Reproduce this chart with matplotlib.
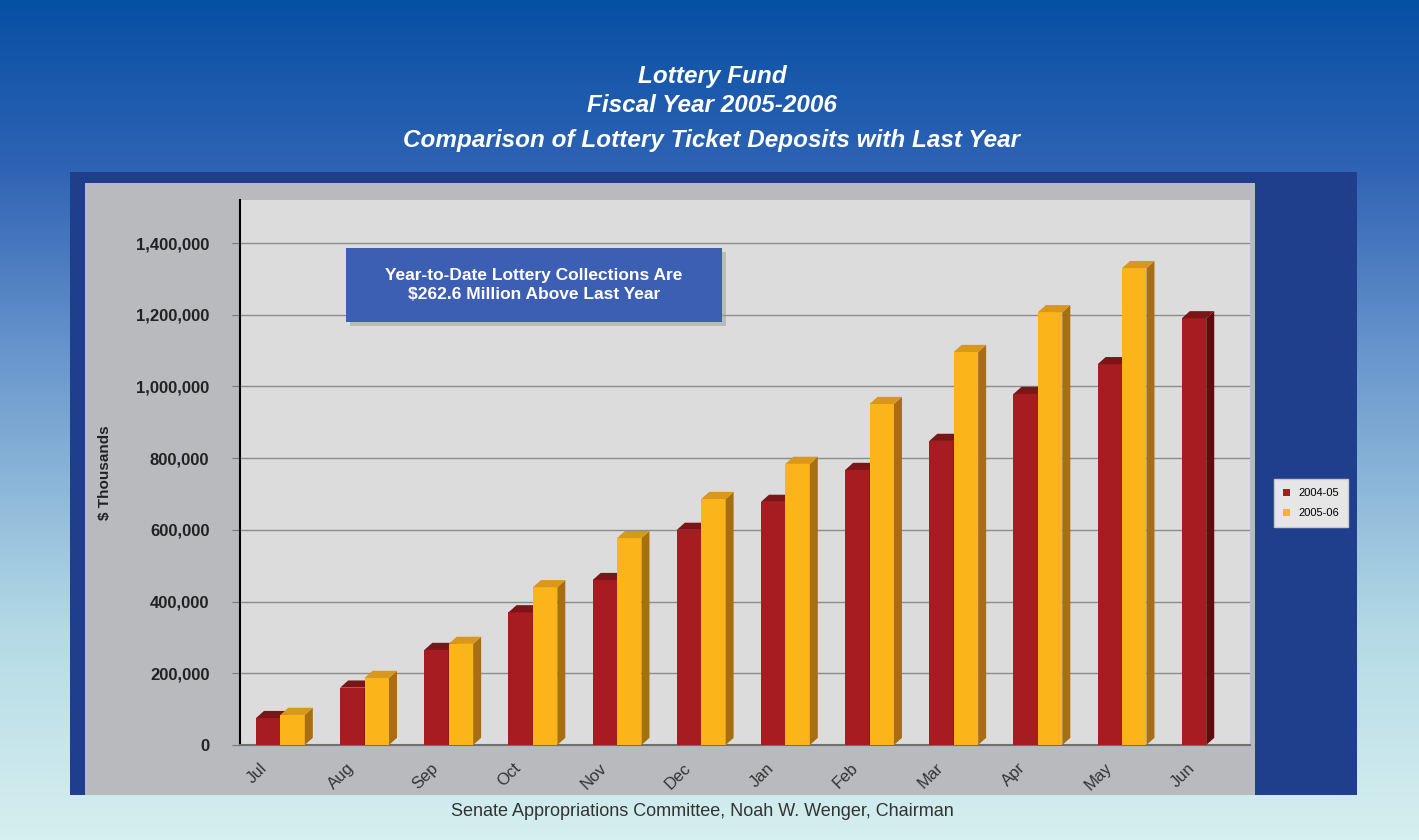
import numpy as np
import matplotlib.pyplot as plt
from matplotlib.patches import Rectangle, Polygon
from matplotlib.colors import LinearSegmentedColormap

plt.rcParams['font.family'] = ['Liberation Sans', 'DejaVu Sans']

months = ["Jul", "Aug", "Sep", "Oct", "Nov", "Dec", "Jan", "Feb", "Mar", "Apr", "May", "Jun"]
fy0405 = [75000, 160000, 265000, 370000, 460000, 600000, 678000, 767000, 848000, 979000, 1062000, 1190000]
fy0506 = [84000, 187000, 282000, 440000, 577000, 686000, 784000, 951000, 1096000, 1207000, 1330000]
series_names = ["2004-05", "2005-06"]

W, H = 1419, 840
fig = plt.figure(figsize=(W / 100, H / 100), dpi=100)

# background gradient
bg = fig.add_axes([0, 0, 1, 1])
bg_cmap = LinearSegmentedColormap.from_list(
    "bg", [(0.0, "#0650a4"), (0.2, "#2f63b4"), (0.45, "#6f9ccf"), (0.75, "#b4dae6"), (1.0, "#d6efef")])
grad = np.linspace(0, 1, 256).reshape(-1, 1)
bg.imshow(grad, aspect="auto", cmap=bg_cmap, extent=[0, 1, 0, 1], origin="upper")
bg.set_xlim(0, 1)
bg.set_ylim(0, 1)
bg.axis("off")


def fx(px):
    return px / W


def fy(py):
    return 1 - py / H


# dark blue panel and grey chart area
fig.patches.append(Rectangle((fx(70), fy(795)), fx(1357 - 70), (795 - 172) / H,
                             transform=fig.transFigure, facecolor="#1f3f8c", edgecolor="none", zorder=1))
fig.patches.append(Rectangle((fx(85), fy(795)), fx(1255 - 85), (795 - 183) / H,
                             transform=fig.transFigure, facecolor="#b9babe", edgecolor="none", zorder=1))

# title
title_lines = ["Lottery Fund", "Fiscal Year 2005-2006", "Comparison of Lottery Ticket Deposits with Last Year"]
for line, ypx in zip(title_lines, [77, 105, 140]):
    fig.text(fx(712), fy(ypx), line, color="white", fontsize=17.5, fontweight="bold",
             fontstyle="italic", ha="center", va="center")

# main plot
ax = fig.add_axes([fx(240), fy(745), fx(1010), (745 - 200) / H])
ax.set_facecolor("#dcdcdc")
ax.set_zorder(2)

x = np.arange(len(months))
bw = 0.29
dx = 0.095
dy = 20000

red_front, red_side, red_top = "#a71c20", "#600c0f", "#7c1517"
yel_front, yel_side, yel_top = "#fbb51b", "#a86f12", "#d9981c"


def draw_bars(xs, vals, front, side, top, label):
    ax.bar(xs, vals, width=bw, align="edge", color=front, zorder=4, label=label)
    for xi, v in zip(xs, vals):
        ax.add_patch(Polygon([(xi + bw, 0), (xi + bw, v), (xi + bw + dx, v + dy), (xi + bw + dx, dy)],
                             closed=True, facecolor=side, edgecolor="none", zorder=4))
        ax.add_patch(Polygon([(xi, v), (xi + dx, v + dy), (xi + bw + dx, v + dy), (xi + bw, v)],
                             closed=True, facecolor=top, edgecolor="none", zorder=4))


draw_bars(x - 0.31, fy0405, red_front, red_side, red_top, series_names[0])
draw_bars(x[:len(fy0506)] - 0.02, fy0506, yel_front, yel_side, yel_top, series_names[1])

ax.set_xlim(-0.5, 11.5)
ax.set_ylim(0, 1520000)
ax.set_yticks(np.arange(0, 1400001, 200000))
ax.set_yticklabels([f"{v:,}" for v in range(0, 1400001, 200000)], fontsize=12,
                   fontweight="bold", color="#222222")
ax.yaxis.grid(True, color="#8c8c8c", linewidth=1)
ax.set_axisbelow(True)
ax.tick_params(axis="y", length=6, color="#777777", pad=16)

ax.set_xticks(x - 0.3)
ax.set_xticklabels(months, rotation=45, ha="center", fontsize=12, color="#333333")
ax.tick_params(axis="x", length=0, pad=11)

for s in ["top", "right"]:
    ax.spines[s].set_visible(False)
ax.spines["left"].set_color("black")
ax.spines["left"].set_linewidth(1.5)
ax.spines["bottom"].set_color("#707070")
ax.spines["bottom"].set_linewidth(1.5)

ax.set_ylabel("$ Thousands", fontsize=11, fontweight="bold", color="#222222", labelpad=0)
ax.yaxis.set_label_coords(fx(112 - 240) / fx(1010), 0.5)

# callout box
fig.patches.append(Rectangle((fx(350), fy(326)), fx(376), 74 / H, transform=fig.transFigure,
                             facecolor="#9a9a9a", alpha=0.5, edgecolor="none", zorder=5))
fig.patches.append(Rectangle((fx(346), fy(322)), fx(376), 74 / H, transform=fig.transFigure,
                             facecolor="#3d5fb3", edgecolor="none", zorder=5))
fig.text(fx(534), fy(285), "Year-to-Date Lottery Collections Are\n$262.6 Million Above Last Year",
         color="white", fontsize=12.5, fontweight="bold", ha="center", va="center",
         linespacing=1.3, zorder=6)

# legend
leg = fig.legend(loc="center", bbox_to_anchor=(fx(1311), fy(503)), fontsize=8,
                 frameon=True, fancybox=False, facecolor="#e6e6e6", edgecolor="#c8c8c8",
                 framealpha=1, handlelength=0.6, handleheight=0.6, handletextpad=0.8,
                 borderpad=0.8, labelspacing=0.9)

fig.text(fx(702), fy(811), "Senate Appropriations Committee, Noah W. Wenger, Chairman",
         fontsize=13, color="#333333", ha="center", va="center")

fig.savefig("out.png", dpi=100)
